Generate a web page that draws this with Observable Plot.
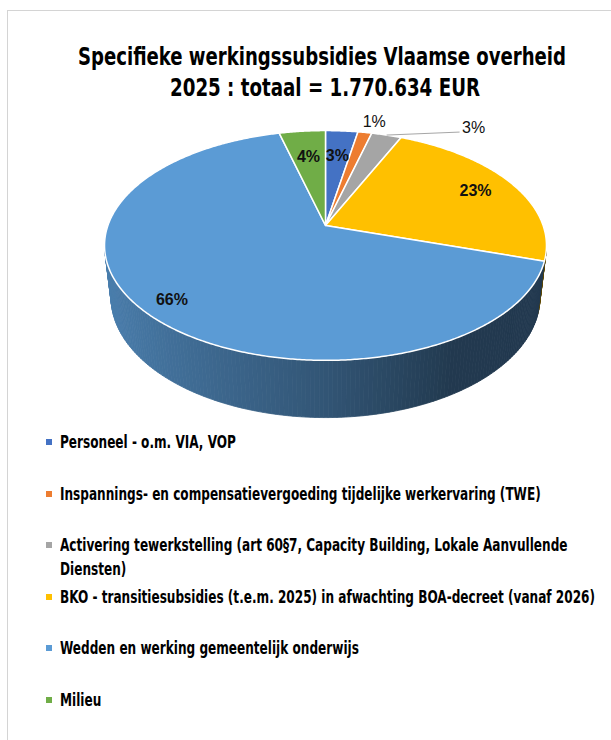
<!DOCTYPE html>
<html><head><meta charset="utf-8">
<script src="https://cdn.jsdelivr.net/npm/d3@7"></script>
<script src="https://cdn.jsdelivr.net/npm/@observablehq/plot@0.6"></script>
<style>
html,body{margin:0;padding:0;background:#fff;}
body{width:611px;height:740px;position:relative;overflow:hidden;font-family:"Liberation Sans Narrow","DejaVu Sans Condensed","Liberation Sans",Arial,sans-serif;color:#000;}
.frame{position:absolute;left:7px;top:10px;width:800px;height:900px;border-left:1px solid #d4d4d4;border-top:1px solid #d4d4d4;}
.fit{position:absolute;white-space:nowrap;transform-origin:0 50%;font-weight:700;}
.title{font-size:24px;line-height:30px;}
.leg{font-size:17px;line-height:24px;white-space:normal;transform-origin:0 12px;}
.sw{position:absolute;width:6px;height:6px;}
#chart{position:absolute;left:0;top:100px;}
#measure{position:absolute;visibility:hidden;white-space:nowrap;font-weight:700;}
</style></head><body>
<div class="frame"></div>
<div id="t1" class="fit title"></div>
<div id="t2" class="fit title"></div>
<div id="chart"></div>
<div id="legend"></div>
<span id="measure"></span>
<script>
// ---- data ----
const titleLines = ["Specifieke werkingssubsidies Vlaamse overheid", "2025 : totaal = 1.770.634 EUR"];
const categories = [
  "Personeel - o.m. VIA, VOP",
  "Inspannings- en compensatievergoeding tijdelijke werkervaring (TWE)",
  "Activering tewerkstelling (art 60§7, Capacity Building, Lokale Aanvullende Diensten)",
  "BKO - transitiesubsidies (t.e.m. 2025) in afwachting BOA-decreet (vanaf 2026)",
  "Wedden en werking gemeentelijk onderwijs",
  "Milieu"
];
const shares = [2.8, 1.2, 2.6, 23.3, 66.1, 4.0];
const colors = ["#4472C4", "#ED7D31", "#A5A5A5", "#FFC000", "#5B9BD5", "#70AD47"];

// ---- titles ----
const t1 = document.getElementById("t1"), t2 = document.getElementById("t2");
t1.textContent = titleLines[0]; t2.textContent = titleLines[1];
function fitTo(el, left, centerY, targetW){
  const w = el.getBoundingClientRect().width;
  el.style.left = left + "px";
  el.style.top = (centerY - 15) + "px";
  el.style.transform = `scaleX(${targetW / w})`;
}
fitTo(t1, 78, 57, 488);
fitTo(t2, 170, 88, 310);

// ---- pie geometry (perspective 3D) ----
const W = 611, H = 340, TOP = 100;
const cx = 325, cy = 225 - TOP;
const S = 217.6, sinA = 0.512, cosA = 0.859, Dist = 4.94, depth = 0.283;
function proj(phi, r, h){
  const u = r * Math.sin(phi), v = -r * Math.cos(phi);
  const w = 1 - h * sinA / Dist - v * cosA / Dist;
  return [u / w, (v * sinA - h * cosA) / w];
}
const arcs = d3.pie().sort(null).value(d => d)(shares);
const step = Math.PI / 360;

// top face
const topPts = [];
arcs.forEach((a, i) => {
  const push = p => topPts.push({id: i, x: p[0], y: p[1], fill: colors[i]});
  push(proj(0, 0, 0));
  const n = Math.max(2, Math.ceil((a.endAngle - a.startAngle) / step));
  for (let k = 0; k <= n; k++) push(proj(a.startAngle + (a.endAngle - a.startAngle) * k / n, 1, 0));
  push(proj(0, 0, 0));
});

// side wall
const e = cosA / Dist;
const phiL = Math.acos(-e) - 0.02, phiR = 2 * Math.PI - Math.acos(-e) + 0.02;
function shade(col, u){
  const f = u < 0 ? 0.55 - 0.27 * u : Math.max(0.37, 0.55 - 0.36 * u);
  const c = d3.rgb(col);
  return d3.rgb(c.r * f, c.g * f, c.b * f).formatHex();
}
const segs = [];
arcs.forEach((a, i) => {
  const s0 = Math.max(a.startAngle, phiL), s1 = Math.min(a.endAngle, phiR);
  if (s1 <= s0) return;
  const n = Math.max(1, Math.ceil((s1 - s0) / (Math.PI / 180)));
  for (let k = 0; k < n; k++) {
    const p0 = s0 + (s1 - s0) * k / n, p1 = s0 + (s1 - s0) * (k + 1) / n;
    const pm = (p0 + p1) / 2;
    segs.push({i, p0, p1, v: -Math.cos(pm), fill: shade(colors[i], Math.sin(pm))});
  }
});
segs.sort((a, b) => a.v - b.v);
const wallPts = [];
segs.forEach((s, j) => {
  [proj(s.p0, 1, 0), proj(s.p1, 1, 0), proj(s.p1, 1, -depth), proj(s.p0, 1, -depth), proj(s.p0, 1, 0)]
    .forEach(p => wallPts.push({id: j, x: p[0], y: p[1], fill: s.fill}));
});

// labels
const placement = ["in", "out", "leader", "in", "in", "in"];
const labels = [], leaders = [];
arcs.forEach((a, i) => {
  const mid = (a.startAngle + a.endAngle) / 2;
  const txt = Math.round(shares[i]) + "%";
  if (placement[i] === "in") {
    const f = shares[i] > 50 ? 0.87 : shares[i] > 10 ? 0.8 : 0.7;
    const p = proj(mid, f, 0);
    labels.push({x: p[0], y: p[1], text: txt, weight: "bold"});
  } else if (placement[i] === "out") {
    const p = proj(mid, 1.13, 0);
    labels.push({x: p[0] + 5 / S, y: p[1], text: txt, weight: "normal"});
  } else {
    const p = proj(mid, 1, 0);
    leaders.push({x1: p[0], y1: p[1], x2: p[0] + 73 / S, y2: p[1] - 3 / S});
    labels.push({x: p[0] + 87 / S, y: p[1] - 7 / S, text: txt, weight: "normal"});
  }
});

const chart = Plot.plot({
  width: W, height: H, margin: 0,
  style: {background: "transparent", fontFamily: "'Liberation Sans', Arial, sans-serif"},
  x: {domain: [-cx / S, (W - cx) / S], range: [0, W], axis: null},
  y: {domain: [-cy / S, (H - cy) / S], range: [0, H], axis: null},
  color: {type: "identity"},
  marks: [
    Plot.line(wallPts, {x: "x", y: "y", z: "id", fill: "fill", stroke: "fill", strokeWidth: 0.8, curve: "linear"}),
    Plot.line(topPts, {x: "x", y: "y", z: "id", fill: "fill", stroke: "white", strokeWidth: 1.5, curve: "linear", strokeLinejoin: "round"}),
    Plot.link(leaders, {x1: "x1", y1: "y1", x2: "x2", y2: "y2", stroke: "#a6a6a6", strokeWidth: 1}),
    Plot.text(labels.filter(d => d.weight === "bold"), {x: "x", y: "y", text: "text", fontSize: 16, fontWeight: "bold", fill: "#111"}),
    Plot.text(labels.filter(d => d.weight !== "bold"), {x: "x", y: "y", text: "text", fontSize: 16, fontWeight: "normal", fill: "#111"})
  ]
});
document.getElementById("chart").appendChild(chart);

// ---- legend ----
const meas = document.getElementById("measure");
meas.style.fontSize = "17px";
meas.textContent = categories[3];
const legScale = 535 / meas.getBoundingClientRect().width;
const legend = document.getElementById("legend");
categories.forEach((c, i) => {
  const yc = 442 + i * 51.6;
  const sw = document.createElement("div");
  sw.className = "sw";
  sw.style.left = "46px"; sw.style.top = (yc - 3) + "px"; sw.style.background = colors[i];
  legend.appendChild(sw);
  const t = document.createElement("div");
  t.className = "fit leg";
  t.textContent = c;
  t.style.left = "60px"; t.style.top = (yc - 12) + "px";
  t.style.width = (545 / legScale) + "px";
  t.style.transform = `scaleX(${legScale})`;
  legend.appendChild(t);
});
</script>
</body></html>
